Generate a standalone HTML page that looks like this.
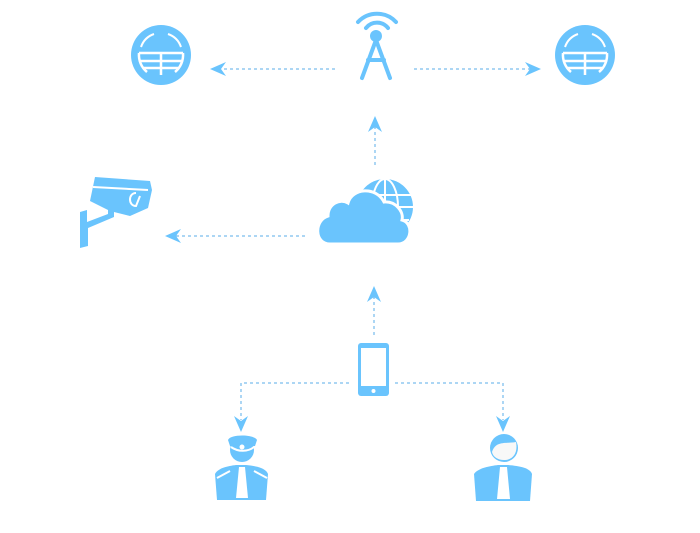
<!DOCTYPE html>
<html><head><style>html,body{margin:0;padding:0;background:#fff;width:700px;height:533px;overflow:hidden}</style></head>
<body>
<svg width="700" height="533" viewBox="0 0 700 533" xmlns="http://www.w3.org/2000/svg">
<defs>
<g id="globe">
<circle r="30" fill="#6ac4fd"/>
<path d="M-20,-8 A21,21 0 0 1 -7,-21 M7,-21 A21,21 0 0 1 20,-8" stroke="#fff" stroke-width="2" fill="none"/>
<path d="M-22,-2 H22 M-21,6 H21 M-17,13 H17 M0,-2 V20 M-22,-2 A22,22 0 0 0 -14,17 M22,-2 A22,22 0 0 1 14,17" stroke="#fff" stroke-width="2.5" fill="none"/>
</g>
</defs>
<g stroke="#5aaee8" stroke-width="1" stroke-dasharray="3,3" fill="none">
<path d="M335,69 H220"/>
<path d="M414,69 H530"/>
<path d="M375,165 V126"/>
<path d="M305,236 H176"/>
<path d="M374,335 V297"/>
<path d="M349,383 H241 V420"/>
<path d="M395,383 H503 V420"/>
</g>
<g fill="#6ac4fd">
<path d="M210,69 L226,62 L221,69 L226,76 Z"/>
<path d="M541,69 L525,62 L530,69 L525,76 Z"/>
<path d="M375,116 L368,132 L375,127 L382,132 Z"/>
<path d="M165,236 L181,229 L176,236 L181,243 Z"/>
<path d="M374,286 L367,302 L374,297 L381,302 Z"/>
<path d="M241,432 L234,416 L241,421 L248,416 Z"/>
<path d="M503,432 L496,416 L503,421 L510,416 Z"/>
</g>
<use href="#globe" x="161" y="55"/>
<use href="#globe" x="585" y="55"/>
<!-- tower -->
<g stroke="#6ac4fd" stroke-linecap="round" fill="none">
<path d="M358,22 A26,26 0 0 1 396,22" stroke-width="4"/>
<path d="M366,28 A14,14 0 0 1 388,28" stroke-width="4"/>
<path d="M376,40 L362,78 M376,40 L390,78 M368,60 H384" stroke-width="4"/>
</g>
<circle cx="376" cy="36" r="6" fill="#6ac4fd"/>
<!-- cloud globe -->
<circle cx="385" cy="207" r="28" fill="#6ac4fd"/>
<g stroke="#fff" stroke-width="2" fill="none">
<path d="M357,207 H413 M359,195 H411 M361,220 H409 M385,179 V235"/>
<ellipse cx="385" cy="207" rx="13" ry="28"/>
</g>
<path d="M330,244 C314,244 314,220 328,216 C328,204 340,198 348,203 C352,188 376,186 384,202 C396,201 404,212 402,220 C414,223 412,244 398,244 Z" fill="#6ac4fd" stroke="#fff" stroke-width="3"/>
<!-- camera -->
<g fill="#6ac4fd">
<path d="M80,212 L87,210 V222 L108,214 V207 L114,207 V217 L88,228 V246 L80,248 Z"/>
<path d="M95,177 L150,181 L152,190 L148,208 L130,216 L110,211 L90,201 Z"/>
</g>
<path d="M136,193 C128,193 128,206 136,206 L140,196" stroke="#fff" stroke-width="2" fill="none"/>
<path d="M93,187 L148,190" stroke="#fff" stroke-width="2"/>
<!-- phone -->
<rect x="358" y="343" width="31" height="53" rx="3" fill="#6ac4fd"/>
<rect x="361" y="348" width="25" height="38" fill="#fff"/>
<circle cx="373.5" cy="391" r="2" fill="#fff"/>
<!-- officer -->
<g fill="#6ac4fd">
<path d="M215,474 C218,468 228,466 236,465 L246,465 C256,466 266,468 268,474 L266,500 H217 Z"/>
<circle cx="242" cy="450" r="12"/>
<path d="M228,440 C230,434 254,434 257,440 L255,446 H230 Z"/>
</g>
<path d="M231,447 C238,452 248,452 254,447" stroke="#fff" stroke-width="2" fill="none"/>
<circle cx="242" cy="447" r="2.5" fill="#fff"/>
<path d="M239,467 H245 L248,498 H236 Z" fill="#fff"/>
<path d="M217,478 L230,471 M267,478 L254,471" stroke="#fff" stroke-width="2"/>
<!-- person -->
<g fill="#6ac4fd">
<path d="M474,474 C478,468 490,466 498,465 L508,465 C520,466 530,468 532,474 L530,501 H476 Z"/>
<circle cx="504" cy="448" r="14"/>
</g>
<path d="M492,452 C496,440 506,444 516,442 C518,452 514,460 504,460 C498,460 493,457 492,452 Z" fill="#f8f8f8"/>
<path d="M500,467 H507 L510,499 H497 Z" fill="#fff"/>
</svg>
</body></html>
